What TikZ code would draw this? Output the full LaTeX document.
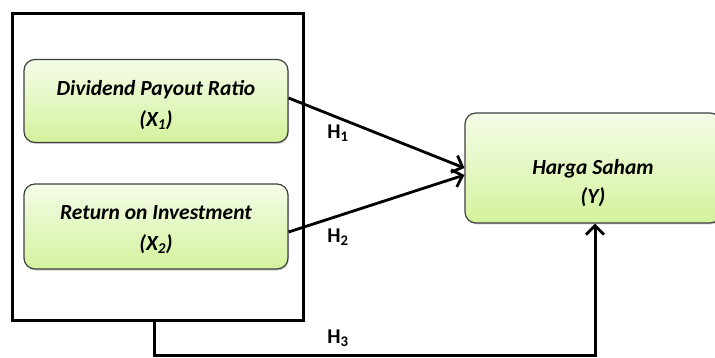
\documentclass[tikz,border=0pt]{standalone}
\usepackage{fontspec}
\setmainfont{Carlito}
\usetikzlibrary{arrows.meta,shadows}
\definecolor{boxtop}{HTML}{F4FCE8}
\definecolor{boxbot}{HTML}{D4F29C}
\definecolor{boxline}{HTML}{404040}
\newcommand\toppad[1]{\rule{0pt}{#1}}
\tikzset{
  var/.style={draw=boxline, line width=1.2pt, rounded corners=11pt,
    top color=boxtop, bottom color=boxbot,
    drop shadow={shadow xshift=1pt, shadow yshift=-1.5pt, opacity=0.35},
    font=\fontsize{21.5}{31}\selectfont\bfseries\itshape, align=center, inner sep=0pt},
  link/.style={line width=2.8pt, -{Straight Barb[length=9pt,width=18pt,line width=2.8pt]}},
  hlab/.style={font=\fontsize{21}{22}\selectfont\bfseries}
}
\begin{document}
\begin{tikzpicture}[x=1pt,y=-1pt]
\useasboundingbox (0,0) rectangle (715,358);
\fill[white] (0,0) rectangle (715,358);
% outer frame
\draw[line width=3pt] (12,14) rectangle (303,320);
\coordinate (frameb) at (154,320);
\node[var, minimum width=264pt, minimum height=83pt] (x1) at (156,101) {\toppad{24pt}Dividend Payout Ratio\\(X\textsubscript{1})};
\node[var, minimum width=264pt, minimum height=85pt] (x2) at (156,226.5) {\toppad{21pt}Return on Investment\\(X\textsubscript{2})};
\node[var, minimum width=256pt, minimum height=110pt] (y) at (593,168) {\toppad{45pt}Harga Saham\\[-2pt](Y)};
\draw[link] (x1.east |- 0,98) -- (y.west |- 0,168);
\draw[link] (x2.east |- 0,232) -- (y.west |- 0,175);
\coordinate (c1) at (154,355);
\coordinate (c2) at (595,355);
\draw[line width=3pt, -{Straight Barb[length=9pt,width=18pt,line width=2.8pt]}] (frameb) -- (c1) -- (c2) -- (y.south -| c2);
\node[hlab] (h1) at (338,133) {H\textsubscript{1}};
\node[hlab] (h2) at (338,237) {H\textsubscript{2}};
\node[hlab] (h3) at (338,338) {H\textsubscript{3}};
\end{tikzpicture}
\end{document}
